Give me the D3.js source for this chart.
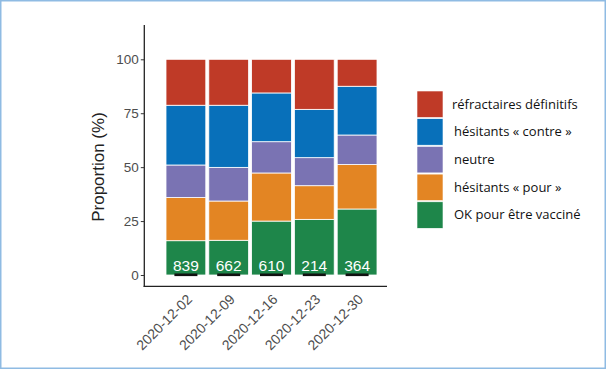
<!DOCTYPE html>
<html><head><meta charset="utf-8">
<script src="https://cdn.jsdelivr.net/npm/d3@7"></script>
<style>body{margin:0;background:#fff}svg{display:block}</style>
</head><body>
<svg id="c" width="606" height="369"></svg>
<script>
const dates = ["2020-12-02","2020-12-09","2020-12-16","2020-12-23","2020-12-30"];
const counts = [839, 662, 610, 214, 364];
const categories = ["OK pour être vacciné","hésitants « pour »","neutre","hésitants « contre »","réfractaires définitifs"];
const colors = ["#1e864a","#e38523","#7a73b3","#0870ba","#bf3a27"];
const okVals      = [15.9, 16.1, 25.0, 25.8, 30.6];
const pourVals    = [20.0, 18.2, 22.3, 15.6, 20.6];
const neutreVals  = [15.1, 15.6, 14.5, 13.0, 13.7];
const contreVals  = [27.7, 28.8, 22.6, 22.4, 22.6];
const refracVals  = [21.3, 21.3, 15.6, 23.2, 12.5];
const yTicks = [0, 25, 50, 75, 100];

const series = [okVals, pourVals, neutreVals, contreVals, refracVals];
const rows = dates.map((d,i)=>{const r={date:d}; categories.forEach((c,k)=>r[c]=series[k][i]); return r;});
const stack = d3.stack().keys(categories)(rows);

const svg = d3.select("#c");
svg.append("rect").attr("x",0.75).attr("y",0.75).attr("width",604.5).attr("height",367.5)
  .attr("fill","#fff").attr("stroke","#8fbbe3").attr("stroke-width",1.5);

const x = d3.scaleBand().domain(dates).range([164.5, 378.5]).paddingInner(0.0).paddingOuter(0.0);
const y = d3.scaleLinear().domain([0,100]).range([275,59.3]);

const g = svg.append("g");
stack.forEach((s,k)=>{
  g.selectAll(null).data(s).enter().append("rect")
    .attr("x",d=>x(d.data.date)+1.5)
    .attr("width",x.bandwidth()-3)
    .attr("y",d=>y(d[1]))
    .attr("height",d=>y(d[0])-y(d[1]))
    .attr("fill",colors[k])
    .attr("stroke","#fff").attr("stroke-width",0.8);
});

// count labels
g.selectAll(null).data(dates).enter().append("text")
  .attr("x",d=>x(d)+x.bandwidth()/2).attr("y",270.5)
  .attr("text-anchor","middle").attr("fill","#fff")
  .attr("font-family","Liberation Sans, Arial, sans-serif").attr("font-size",15.5)
  .text((d,i)=>counts[i]);
g.selectAll(null).data(dates).enter().append("rect")
  .attr("x",d=>x(d)+x.bandwidth()/2-11.5).attr("y",273.5)
  .attr("width",23).attr("height",2.6).attr("fill","#111");

// axes
const axisG = svg.append("g");
axisG.append("line").attr("x1",144.3).attr("x2",144.3).attr("y1",25).attr("y2",287).attr("stroke","#222").attr("stroke-width",1.3);
axisG.append("line").attr("x1",143.6).attr("x2",387).attr("y1",286.3).attr("y2",286.3).attr("stroke","#222").attr("stroke-width",1.3);

const yAxis = d3.axisLeft(y).tickValues(yTicks).tickSize(3.5).tickPadding(2);
const ya = svg.append("g").attr("transform","translate(144.3,0)").call(yAxis);
ya.select(".domain").remove();
ya.selectAll("line").attr("stroke","#333");
ya.selectAll("text").attr("fill","#4d4d4d").attr("font-family","Liberation Sans, Arial, sans-serif").attr("font-size",13.5);

const xAxis = d3.axisBottom(x).tickSize(0).tickPadding(0);
const xa = svg.append("g").attr("transform","translate(0,286.3)").call(xAxis);
xa.select(".domain").remove();
xa.selectAll("text")
  .attr("fill","#4d4d4d").attr("font-family","Liberation Sans, Arial, sans-serif").attr("font-size",14)
  .attr("text-anchor","end").attr("dy",null)
  .attr("transform","translate(7,14) rotate(-45)");

svg.append("text").attr("transform","translate(104,167) rotate(-90)")
  .attr("text-anchor","middle").attr("fill","#222")
  .attr("font-family","Liberation Sans, Arial, sans-serif").attr("font-size",17)
  .text("Proportion (%)");

// legend
const legOrder = [4,3,2,1,0];
const leg = svg.append("g");
legOrder.forEach((k,i)=>{
  const yy = 91 + i*27.7;
  leg.append("rect").attr("x",417).attr("y",yy).attr("width",26).attr("height",26.5)
    .attr("fill",colors[k]).attr("stroke","#fff").attr("stroke-width",0.6);
  leg.append("text").attr("x",i===0?452:454).attr("y",yy+13).attr("dy","0.35em")
    .attr("fill","#111").attr("font-family","Open Sans, Noto Sans, sans-serif").attr("font-size",13)
    .text(categories[k]);
});
</script>
</body></html>
